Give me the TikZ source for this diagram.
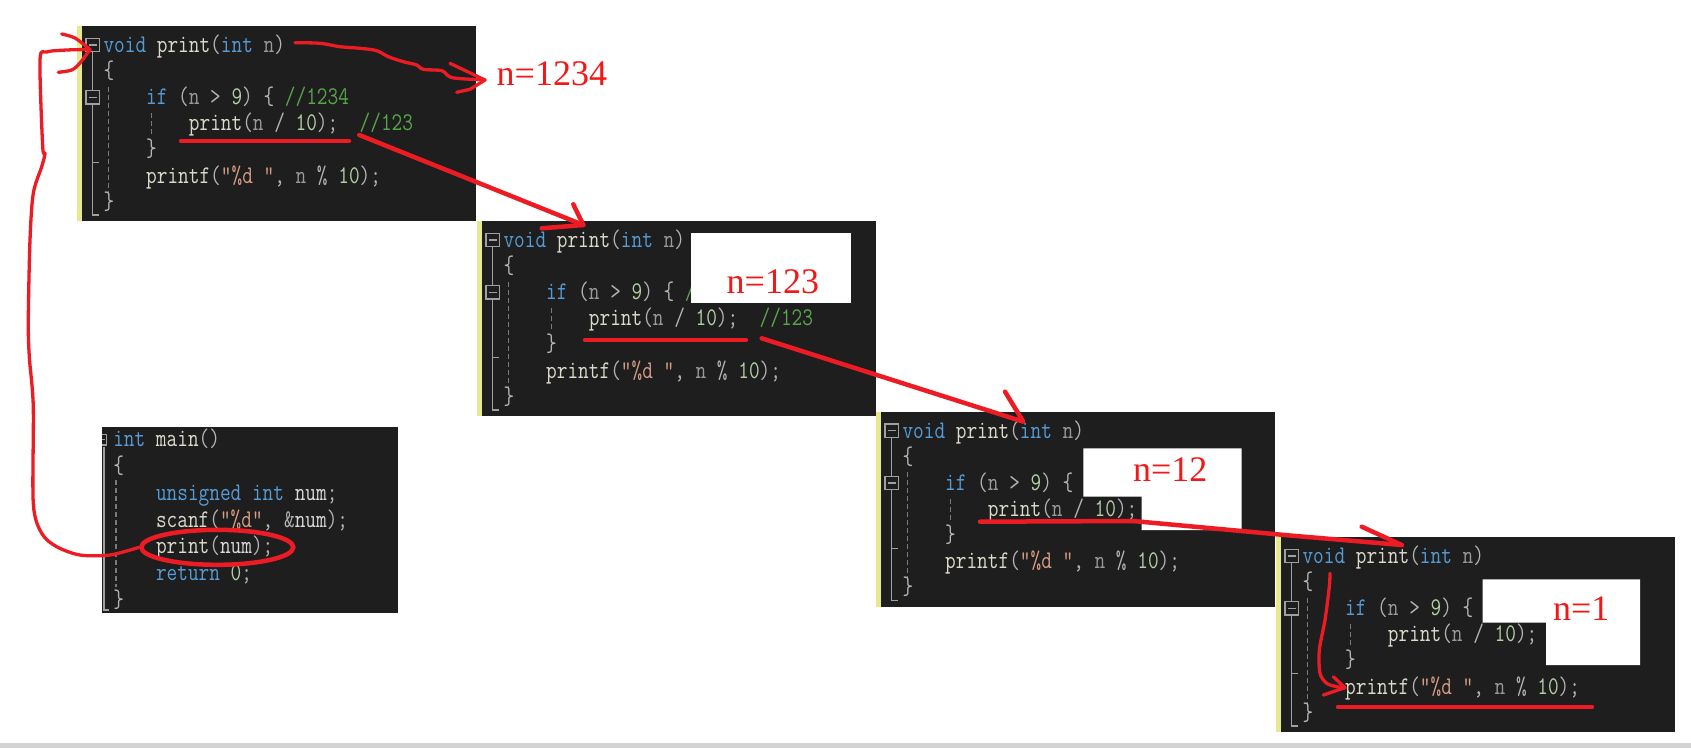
\documentclass[tikz,border=0pt]{standalone}
\usepackage{fontspec}
\usepackage{graphicx}
\usetikzlibrary{shapes.geometric}
\newfontfamily\redfont{Liberation Serif}
\definecolor{codebg}{HTML}{1E1E1E}
\definecolor{stripc}{HTML}{E8E890}
\definecolor{outlc}{HTML}{A0A0A0}
\definecolor{guidec}{HTML}{7A7A7A}
\definecolor{ckwc}{HTML}{569CD6}
\definecolor{cfnc}{HTML}{DCDACB}
\definecolor{cparc}{HTML}{9A9A9A}
\definecolor{copc}{HTML}{B4B4B4}
\definecolor{cnumc}{HTML}{B5CEA8}
\definecolor{ccomc}{HTML}{57A64A}
\definecolor{cstrc}{HTML}{D69D85}
\definecolor{cvarc}{HTML}{DADADA}
\definecolor{penred}{HTML}{ED1C24}
\definecolor{labred}{HTML}{F21818}
\definecolor{bandgray}{HTML}{D3D3D3}
\newcommand\ckw[1]{\textcolor{ckwc}{#1}}
\newcommand\cfn[1]{\textcolor{cfnc}{#1}}
\newcommand\cpar[1]{\textcolor{cparc}{#1}}
\newcommand\cop[1]{\textcolor{copc}{#1}}
\newcommand\cnum[1]{\textcolor{cnumc}{#1}}
\newcommand\ccom[1]{\textcolor{ccomc}{#1}}
\newcommand\cstr[1]{\textcolor{cstrc}{#1}}
\newcommand\cvar[1]{\textcolor{cvarc}{#1}}
\newcommand\cl[1]{\scalebox{1.02}[1.25]{#1}}
\newcommand\codefont{\fontsize{20.32}{24}\selectfont\ttfamily}
\tikzset{
  codeline/.style={anchor=base west, inner sep=0pt, outer sep=0pt, font=\codefont},
  outl/.style={draw=outlc, line width=1.3pt},
  guideln/.style={draw=guidec, line width=1.4pt, dash pattern=on 5pt off 3pt},
  redpen/.style={draw=penred, line width=4.5pt, line cap=round, line join=round},
  thinred/.style={draw=penred, line width=3.3pt, line cap=round, line join=round},
  redlab/.style={anchor=base west, inner sep=0pt, outer sep=0pt, text=labred, font=\redfont\fontsize{36}{40}\selectfont},
}
\newcommand\printpanel[5]{%
\begin{scope}[shift={(#2,#3)}]
\fill[codebg] (0,0) rectangle (399,195);
\fill[stripc] (0,0) rectangle (4.5,195);
\draw[outl] (9,12.3) rectangle (22.3,25.7) (11.5,19) -- (19.8,19);
\draw[outl] (15.65,25.7) -- (15.65,64.6);
\draw[outl] (9,64.6) rectangle (22.3,78) (11.5,71.3) -- (19.8,71.3);
\draw[outl] (15.65,78) -- (15.65,189) -- (22.3,189);
\draw[outl] (15.65,136.5) -- (22.3,136.5);
\draw[guideln] (31.3,60.7) -- (31.3,170.7);
\draw[guideln] (74.7,87.3) -- (74.7,109);
\node[codeline] (#1-l0) at (26.5,26.5) {\cl{\ckw{void} \cfn{print}\cop{(}\ckw{int} \cpar{n}\cop{)}}};
\node[codeline] (#1-l1) at (26.5,52.6) {\cl{\cop{\{}}};
\node[codeline] (#1-l2) at (69.2,78.7) {\cl{#4}};
\node[codeline] (#1-l3) at (111.9,104.8) {\cl{#5}};
\node[codeline] (#1-l4) at (69.2,130.9) {\cl{\cop{\}}}};
\node[codeline] (#1-l5) at (69.2,157) {\cl{\cfn{printf}\cop{(}\cstr{"\%d "}\cop{,} \cpar{n} \cop{\%} \cnum{10}\cop{);}}};
\node[codeline] (#1-l6) at (26.5,183.1) {\cl{\cop{\}}}};
\end{scope}}
\begin{document}
\begin{tikzpicture}[x=1pt,y=-1pt]
\useasboundingbox (0,0) rectangle (1691,748);
\fill[white] (0,0) rectangle (1691,748);
\fill[bandgray] (0,742.7) rectangle (1691,748);

% ---- panels ----
\printpanel{pa}{77}{26}{\ckw{if} \cop{(}\cpar{n} \cop{>} \cnum{9}\cop{)} \cop{\{} \ccom{//1234}}{\cfn{print}\cop{(}\cpar{n} \cop{/} \cnum{10}\cop{);}\ \ \ccom{//123}}
\printpanel{pb}{477}{221}{\ckw{if} \cop{(}\cpar{n} \cop{>} \cnum{9}\cop{)} \cop{\{} \ccom{/}}{\cfn{print}\cop{(}\cpar{n} \cop{/} \cnum{10}\cop{);}\ \ \ccom{//123}}
\printpanel{pc}{876}{411.7}{\ckw{if} \cop{(}\cpar{n} \cop{>} \cnum{9}\cop{)} \cop{\{}}{\cfn{print}\cop{(}\cpar{n} \cop{/} \cnum{10}\cop{);}}
\printpanel{pd}{1276}{537}{\ckw{if} \cop{(}\cpar{n} \cop{>} \cnum{9}\cop{)} \cop{\{}}{\cfn{print}\cop{(}\cpar{n} \cop{/} \cnum{10}\cop{);}}

% ---- main panel ----
\fill[codebg] (102,426.7) rectangle (398,613);
\draw[outl] (102,434.5) -- (106.5,434.5) -- (106.5,445) -- (102,445) (102,439.7) -- (105,439.7);
\draw[outl] (104,446.7) -- (104,610) -- (109,610);
\draw[guideln] (116,480) -- (116,586.7);
\node[codeline] (m0) at (113.3,446.8) {\cl{\ckw{int} \cfn{main}\cop{()}}};
\node[codeline] (m1) at (113.3,473.5) {\cl{\cop{\{}}};
\node[codeline] (m2) at (156,500.2) {\cl{\ckw{unsigned} \ckw{int} \cvar{num}\cop{;}}};
\node[codeline] (m3) at (156,527.5) {\cl{\cfn{scanf}\cop{(}\cstr{"\%d"}\cop{,} \cop{\&}\cvar{num}\cop{);}}};
\node[codeline] (m4) at (156,553.5) {\cl{\cfn{print}\cop{(}\cvar{num}\cop{);}}};
\node[codeline] (m5) at (156,580.8) {\cl{\ckw{return} \cnum{0}\cop{;}}};
\node[codeline] (m6) at (113.3,607.5) {\cl{\cop{\}}}};

% ---- white boxes with labels ----
\fill[white] (691,233.3) rectangle (850.7,303.3);
\fill[white] (1083.3,448.3) -- (1241.7,448.3) -- (1241.7,530) -- (1141.7,530) -- (1141.7,496.7) -- (1083.3,496.7) -- cycle;
\fill[white] (1482.7,579.3) -- (1640,579.3) -- (1640,665) -- (1546,665) -- (1546,622.7) -- (1482.7,622.7) -- cycle;
\node[redlab] (lab1) at (496.7,85) {n=1234};
\node[redlab] (lab2) at (726.7,293.3) {n=123};
\node[redlab] (lab3) at (1133,481.7) {n=12};
\node[redlab] (lab4) at (1553,620) {n=1};

% ---- red annotations ----
% header to n=1234
\coordinate (c1s) at (295,42.7);
\coordinate (c1t) at (485,80);
\draw[thinred] plot[smooth, tension=0.6] coordinates {(c1s) (320,43.3) (340,46.7) (360,48.3) (376.7,50.7) (388.3,56.7) (403.3,61.7) (416.7,65) (423.3,69.3) (441.7,70.7) (448.3,76) (456.7,78.3) (c1t)};
\draw[thinred] (450,63.3) -- (c1t);
\draw[thinred] (456.7,92.3) -- (470,89.3) -- (c1t);

% call 1 -> 2
\coordinate (u1s) at (181,141); \coordinate (u1e) at (349,141);
\draw[redpen] (u1s) -- (u1e);
\coordinate (a1s) at (359.3,135); \coordinate (a1t) at (583.3,225);
\draw[redpen] (a1s) -- (a1t);
\draw[redpen] (573.3,204.3) -- (a1t) -- (541.7,228.3);

% call 2 -> 3
\coordinate (u2s) at (585,340); \coordinate (u2e) at (746,340);
\draw[redpen] (u2s) -- (u2e);
\coordinate (a2s) at (761.7,338.3); \coordinate (a2t) at (1023.3,421.7);
\draw[redpen] (a2s) -- (a2t) -- (1005,391.7);

% call 3 -> 4
\coordinate (a3s) at (980,521.7); \coordinate (a3t) at (1401.7,545);
\draw[redpen] (a3s) -- (1133,521) -- (1290,535.5) -- (a3t);
\draw[redpen] (1361.7,526.7) -- (a3t);

% panel 4 inner arrow and underline
\coordinate (a4s) at (1330,573.3); \coordinate (a4t) at (1345,687.7);
\draw[thinred] plot[smooth] coordinates {(a4s) (1329.3,586.7) (1325,620) (1319.3,650) (1320,673.3) (1326.7,683.3) (1336.7,686.7) (a4t)};
\draw[thinred] (1333.3,676.7) -- (a4t) -- (1323.3,695);
\coordinate (u4s) at (1338,707); \coordinate (u4e) at (1592,707);
\draw[redpen] (u4s) -- (u4e);

% main call ellipse and loop to first panel
\node[ellipse, draw=penred, line width=4.5pt, minimum width=152pt, minimum height=35pt, inner sep=0pt] (circ) at (217.3,547.3) {};
\coordinate (a0t) at (90,49.5);
\draw[thinred] plot[smooth, tension=0.5] coordinates {(circ.west) (110,555) (80,555) (56.7,546.7) (41.7,533.3) (33.3,503.3) (33.3,406.7) (29.3,356.7) (28.3,320) (30,240) (33.3,193.3) (41.7,166.7) (45,153.3) (42.7,146.7) (40,60) (46.7,52) (66.7,50) (a0t)};
\draw[thinred] plot[smooth] coordinates {(61.7,34) (75,38) (a0t)};
\draw[thinred] plot[smooth] coordinates {(58.3,72.3) (71.7,70) (80,63) (a0t)};
\end{tikzpicture}
\end{document}
